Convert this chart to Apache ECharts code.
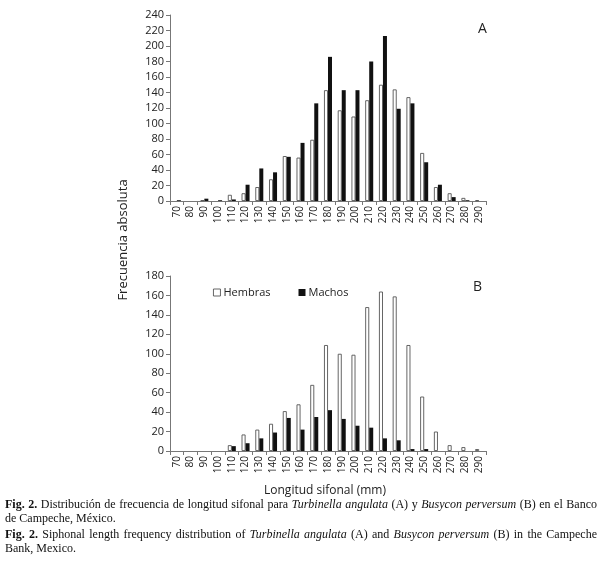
<!DOCTYPE html>
<html><head><meta charset="utf-8">
<script src="https://cdn.jsdelivr.net/npm/echarts@6/dist/echarts.min.js"></script>
<style>html,body{margin:0;padding:0;background:#fff}#c{width:602px;height:571px}</style>
</head><body><div id="c"></div>
<script>
const categories = ['70','80','90','100','110','120','130','140','150','160','170','180','190','200','210','220','230','240','250','260','270','280','290'];
const hembrasA = [0,0,1,0,8,10,18,28,58,56,79,143,117,109,130,150,144,134,62,18,10,4,1];
const machosA  = [1,0,3,1,2,21,42,37,57,75,126,186,143,143,180,213,119,126,50,21,5,1,0];
const hembrasB = [0,0,0,0,6,17,22,28,41,48,68,109,100,99,148,164,159,109,56,20,6,4,2];
const machosB  = [0,0,0,0,5,8,13,19,34,22,35,42,33,26,24,13,11,2,2,0,0,0,0];
const yTicksA = {min:0, max:240, interval:20};
const yTicksB = {min:0, max:180, interval:20};

// caption lines: array of [text, style] word runs; justified flag
const captionLines = [
  {y:505, justify:true, runs:[['Fig. 2.','b'],['Distribución de frecuencia de longitud sifonal para',''],['Turbinella angulata','i'],['(A) y',''],['Busycon perversum','i'],['(B) en el Banco','']]},
  {y:519, justify:false, runs:[['de Campeche, México.','']]},
  {y:535, justify:true, runs:[['Fig. 2.','b'],['Siphonal length frequency distribution of',''],['Turbinella angulata','i'],['(A) and',''],['Busycon perversum','i'],['(B) in the Campeche','']]},
  {y:549, justify:false, runs:[['Bank, Mexico.','']]}
];

const chart = echarts.init(document.getElementById('c'));
const axisCol = '#777';
const txt = '#222';
const capFont = 12, capFam = 'Liberation Serif', capL = 5, capR = 597;
function xAx(gi){
  return {type:'category', gridIndex:gi, data:categories,
    axisLine:{lineStyle:{color:axisCol,width:1}},
    axisTick:{show:true, alignWithLabel:false, length:4, lineStyle:{color:axisCol}},
    axisLabel:{rotate:90, fontSize:10, color:txt, margin:5, fontFamily:'Open Sans', interval:0}};
}
function yAx(gi, t){
  return {type:'value', gridIndex:gi, min:t.min, max:t.max, interval:t.interval,
    splitLine:{show:false},
    axisLine:{show:true, lineStyle:{color:axisCol,width:1}},
    axisTick:{show:true, length:4, lineStyle:{color:axisCol}},
    axisLabel:{fontSize:11, color:txt, margin:6, fontFamily:'Open Sans'}};
}
const nz = a => a.map(v => v === 0 ? null : v);
const hStyle = {color:'#fff', borderColor:'#555', borderWidth:0.9};
const mStyle = {color:'#111'};

// build justified caption text elements
const ctx = document.createElement('canvas').getContext('2d');
function fontStr(s){ return (s==='i'?'italic ':'') + (s==='b'?'bold ':'') + capFont + 'px "' + capFam + '"'; }
const capGraphics = [];
captionLines.forEach(line => {
  const words = [];
  line.runs.forEach(([t,s]) => t.split(' ').forEach(w => words.push([w,s])));
  ctx.font = fontStr('');
  const spaceW = ctx.measureText(' ').width;
  let total = 0;
  const widths = words.map(([w,s]) => { ctx.font = fontStr(s); const m = ctx.measureText(w).width; total += m; return m; });
  let gap = spaceW;
  if (line.justify && words.length > 1) gap = (capR - capL - total) / (words.length - 1);
  let x = capL;
  words.forEach(([w,s], k) => {
    capGraphics.push({type:'text', x:x, y:line.y, style:{text:w, font:fontStr(s), fill:'#111', verticalAlign:'middle'}});
    x += widths[k] + gap;
  });
});

chart.setOption({
  animation:false,
  backgroundColor:'#fff',
  grid:[
    {left:170, top:15, width:316, height:186},
    {left:170, top:276, width:316, height:175}
  ],
  xAxis:[xAx(0), xAx(1)],
  yAxis:[yAx(0,yTicksA), yAx(1,yTicksB)],
  legend:{left:208, top:282, itemWidth:7, itemHeight:7, itemGap:28, icon:'rect',
    textStyle:{fontSize:11, color:txt, fontFamily:'Open Sans', padding:[0,0,0,-2]},
    data:[{name:'Hembras', itemStyle:hStyle},{name:'Machos', itemStyle:mStyle}]},
  series:[
    {name:'Hembras', type:'bar', xAxisIndex:0, yAxisIndex:0, data:nz(hembrasA), barWidth:4, barGap:'0%', itemStyle:hStyle},
    {name:'Machos', type:'bar', xAxisIndex:0, yAxisIndex:0, data:nz(machosA), barWidth:4, barGap:'0%', itemStyle:mStyle},
    {name:'Hembras', type:'bar', xAxisIndex:1, yAxisIndex:1, data:nz(hembrasB), barWidth:4, barGap:'0%', itemStyle:hStyle},
    {name:'Machos', type:'bar', xAxisIndex:1, yAxisIndex:1, data:nz(machosB), barWidth:4, barGap:'0%', itemStyle:mStyle}
  ],
  graphic:[
    {type:'text', left:478, top:22, style:{text:'A', fontSize:14, fill:txt, fontFamily:'Open Sans'}},
    {type:'text', left:473, top:280, style:{text:'B', fontSize:14, fill:txt, fontFamily:'Open Sans'}},
    {type:'text', x:123, y:240, rotation:Math.PI/2, style:{text:'Frecuencia absoluta', fontSize:13, fill:txt, fontFamily:'Open Sans', align:'center', verticalAlign:'middle'}},
    {type:'text', x:325, y:491, style:{text:'Longitud sifonal (mm)', fontSize:12, fill:txt, fontFamily:'Open Sans', align:'center', verticalAlign:'middle'}}
  ].concat(capGraphics)
});
</script></body></html>
